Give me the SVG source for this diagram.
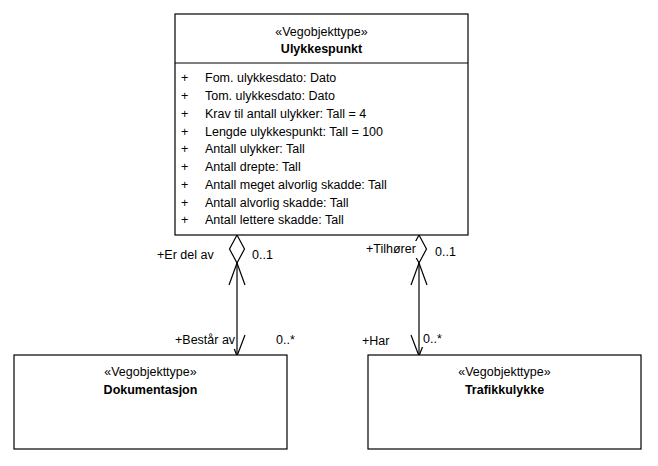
<svg xmlns="http://www.w3.org/2000/svg" width="658" height="466" viewBox="0 0 658 466">
  <style>
    text { font-family: "Liberation Sans", Arial, sans-serif; font-size: 12.5px; fill: #000; }
    .name { font-weight: bold; }
    .mid { text-anchor: middle; }
    .box { fill: #fff; stroke: #000; stroke-width: 1.2; }
    .line { fill: none; stroke: #000; stroke-width: 1.2; }
    .lblbg { fill: #fff; stroke: none; }
  </style>
  <rect x="0" y="0" width="658" height="466" fill="#fff"/>

  <!-- associations -->
  <g id="connectors">
    <!-- Ulykkespunkt <>- Dokumentasjon -->
    <g id="assoc-dokumentasjon">
      <polygon class="line" points="237,235 244.5,249 237,263 229.5,249"/>
      <line class="line" x1="237" y1="263" x2="237" y2="356"/>
      <polyline class="line" points="229,285 237,263 245,285"/>
      <polyline class="line" points="229,335 237,356 245,335"/>
    </g>
    <!-- Ulykkespunkt <>- Trafikkulykke -->
    <g id="assoc-trafikkulykke">
      <polygon class="line" points="419,235 426.5,249 419,263 411.5,249"/>
      <line class="line" x1="419" y1="263" x2="419" y2="356"/>
      <polyline class="line" points="411,285 419,263 427,285"/>
      <polyline class="line" points="411,335 419,356 427,335"/>
    </g>
    <!-- role and multiplicity labels -->
    <text x="157" y="259">+Er del av</text>
    <text x="252" y="259">0..1</text>
    <rect class="lblbg" x="364" y="241" width="53" height="17"/>
    <text x="366" y="253">+Tilhører</text>
    <text x="435" y="256">0..1</text>
    <rect class="lblbg" x="173" y="333" width="63" height="16"/>
    <text x="175" y="344">+Består av</text>
    <text x="276" y="344">0..*</text>
    <text x="362" y="345">+Har</text>
    <rect class="lblbg" x="421" y="331" width="26" height="16"/>
    <text x="423" y="343">0..*</text>
  </g>

  <g id="ulykkespunkt">
    <rect class="box" x="175" y="14" width="293" height="221"/>
    <line class="line" x1="175" y1="63" x2="468" y2="63"/>
    <text class="mid" x="321.5" y="36">«Vegobjekttype»</text>
    <text class="mid name" x="321.5" y="53">Ulykkespunkt</text>
    <g id="attributes">
      <text x="181" y="82">+</text><text x="205" y="82">Fom. ulykkesdato: Dato</text>
      <text x="181" y="100">+</text><text x="205" y="100">Tom. ulykkesdato: Dato</text>
      <text x="181" y="117.5">+</text><text x="205" y="117.5">Krav til antall ulykker: Tall = 4</text>
      <text x="181" y="135.5">+</text><text x="205" y="135.5">Lengde ulykkespunkt: Tall = 100</text>
      <text x="181" y="153">+</text><text x="205" y="153">Antall ulykker: Tall</text>
      <text x="181" y="171">+</text><text x="205" y="171">Antall drepte: Tall</text>
      <text x="181" y="189">+</text><text x="205" y="189">Antall meget alvorlig skadde: Tall</text>
      <text x="181" y="207">+</text><text x="205" y="207">Antall alvorlig skadde: Tall</text>
      <text x="181" y="224">+</text><text x="205" y="224">Antall lettere skadde: Tall</text>
    </g>
  </g>

  <g id="dokumentasjon">
    <rect class="box" x="14" y="355" width="273" height="94"/>
    <text class="mid" x="150.5" y="376">«Vegobjekttype»</text>
    <text class="mid name" x="150.5" y="394">Dokumentasjon</text>
  </g>

  <g id="trafikkulykke">
    <rect class="box" x="368" y="355" width="273" height="94"/>
    <text class="mid" x="504.5" y="376">«Vegobjekttype»</text>
    <text class="mid name" x="504.5" y="394">Trafikkulykke</text>
  </g>
</svg>
